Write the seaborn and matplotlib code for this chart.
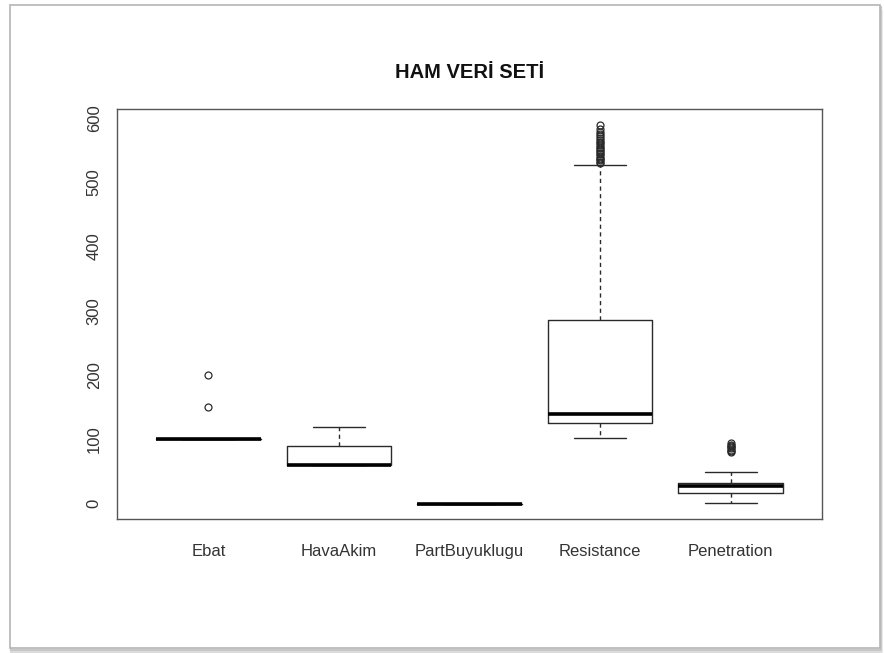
import numpy as np
import matplotlib
matplotlib.use("Agg")
import matplotlib.pyplot as plt
import seaborn as sns
from matplotlib.patches import Rectangle

# values
categories = ["Ebat", "HavaAkim", "PartBuyuklugu", "Resistance", "Penetration"]
whisker_low = [100, 60, 0, 103, 2]
q1 = [100, 60, 0, 126, 17]
medians = [100, 60, 0, 139, 28]
q3 = [100, 90, 0, 285, 33]
whisker_high = [100, 120, 0, 527, 49]
outliers = [
    [150, 200],
    [],
    [],
    [529, 531, 534, 536, 538, 541, 543, 545, 548, 550, 553, 555, 558,
     560, 563, 566, 569, 572, 575, 578, 583, 588],
    [80, 82, 84, 86, 88, 90, 92, 94],
]
y_ticks = [0, 100, 200, 300, 400, 500, 600]


def build_stats():
    """Turn the summary lists into the dicts that bxp wants."""
    stats = []
    for i, name in enumerate(categories):
        stats.append({
            "label": name,
            "whislo": whisker_low[i],
            "q1": q1[i],
            "med": medians[i],
            "q3": q3[i],
            "whishi": whisker_high[i],
            "fliers": np.array(outliers[i]),
        })
    return stats


def main():
    sns.set_style("white")
    plt.rcParams["font.family"] = ["Liberation Sans", "DejaVu Sans"]

    fig = plt.figure(figsize=(8.84, 6.53), dpi=100)

    # framed panel with a soft shadow, like the screenshot
    for off, col in [(6, "#ececec"), (4, "#dcdcdc"), (2, "#c8c8c8")]:
        fig.patches.append(Rectangle(((10 + off * 0.3) / 884, (5 - off) / 653),
                                     870 / 884, 643 / 653, transform=fig.transFigure,
                                     facecolor="none", edgecolor=col, lw=1.5, zorder=-3))
    fig.patches.append(Rectangle((10 / 884, 5 / 653), 870 / 884, 643 / 653,
                                 transform=fig.transFigure, facecolor="white",
                                 edgecolor="#b5b5b5", lw=1.2, zorder=-2))

    ax = fig.add_axes([117 / 884, 1 - 519 / 653, 705 / 884, 410 / 653])
    ax.set_zorder(1)
    ax.set_facecolor("white")

    line_col = "#2a2a2a"
    ax.bxp(build_stats(), positions=range(1, len(categories) + 1),
           widths=0.8, capwidths=0.4, showfliers=True,
           boxprops=dict(color=line_col, lw=1.0),
           medianprops=dict(color="black", lw=2.6, solid_capstyle="butt"),
           whiskerprops=dict(color=line_col, lw=1.0, linestyle=(0, (3, 2.5))),
           capprops=dict(color=line_col, lw=1.0),
           flierprops=dict(marker="o", markersize=5, markerfacecolor="none",
                           markeredgecolor=line_col, markeredgewidth=0.9))

    ax.set_xlim(0.3, 5.7)
    ax.set_ylim(-23.6, 613.6)
    ax.set_yticks(y_ticks)
    ax.set_yticklabels([str(t) for t in y_ticks], rotation=90, va="center")
    ax.set_xticks(range(1, len(categories) + 1))
    ax.set_xticklabels(categories)

    for s in ax.spines.values():
        s.set_color("#555555")
        s.set_linewidth(1.0)
    ax.tick_params(axis="both", direction="out", length=5, width=1.0,
                   color="#555555", labelsize=12, labelcolor="#333333")
    ax.tick_params(axis="x", pad=13)
    ax.tick_params(axis="y", pad=6)

    ax.set_title("HAM VERİ SETİ", fontsize=14.5, fontweight="bold", pad=22,
                 color="#111111")

    fig.savefig("out.png", dpi=100)


if __name__ == "__main__":
    main()
